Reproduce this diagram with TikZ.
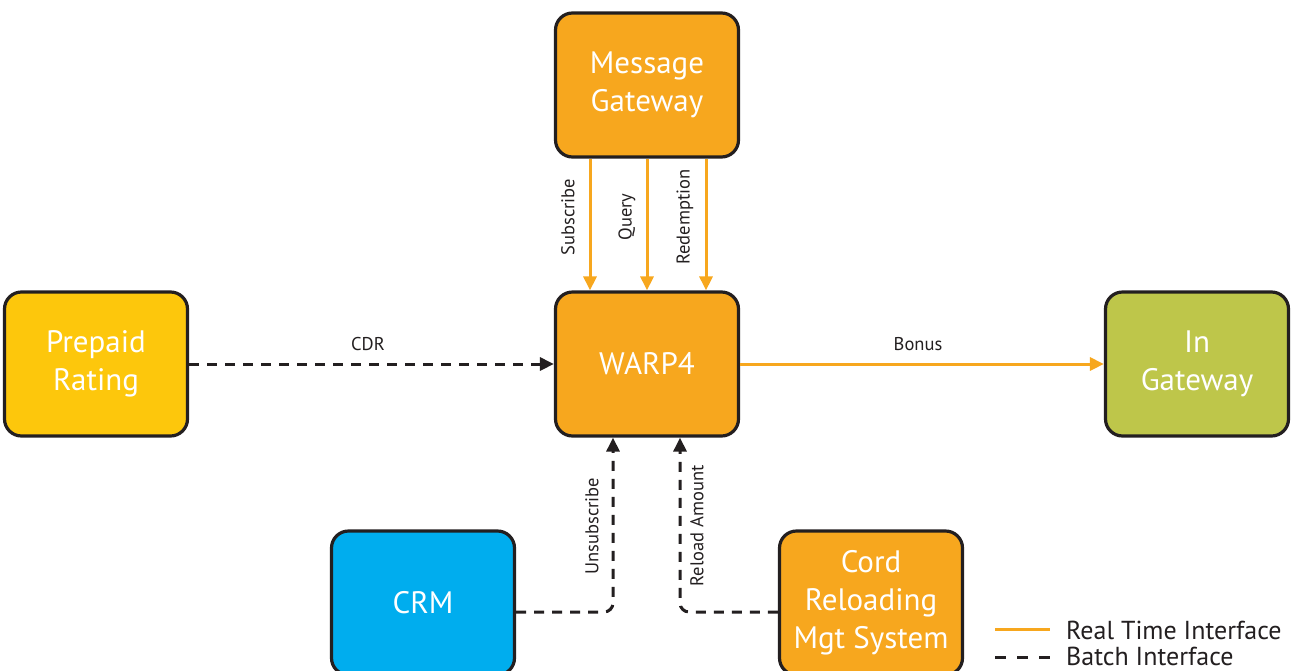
\documentclass[tikz,border=0pt]{standalone}
\usepackage{fontspec}
\setmainfont{PT Sans}
\usetikzlibrary{arrows.meta}
\definecolor{boxline}{HTML}{231F20}
\definecolor{orangefill}{HTML}{F7A71E}
\definecolor{yellowfill}{HTML}{FDC70C}
\definecolor{greenfill}{HTML}{BEC64A}
\definecolor{bluefill}{HTML}{00ADEE}
\definecolor{rtline}{HTML}{F7A71E}
\definecolor{batchline}{HTML}{231F20}
\tikzset{
  sysbox/.style={draw=boxline, line width=3.2pt, rounded corners=17pt,
    minimum width=183pt, minimum height=144pt, text=white,
    font=\fontsize{31}{38}\selectfont, align=center, inner sep=0pt},
  realtime/.style={draw=rtline, line width=3pt,
    -{Triangle[length=14pt,width=13pt]}},
  batch/.style={draw=batchline, line width=3pt, dash pattern=on 10pt off 8pt,
    -{Triangle[length=14pt,width=13pt]}},
  lbl/.style={font=\fontsize{18.5}{20}\selectfont, text=boxline, inner sep=0pt},
  legendtext/.style={font=\fontsize{26}{28}\selectfont, text=boxline, anchor=west, inner sep=0pt}
}
\begin{document}
\begin{tikzpicture}[x=1pt, y=-1pt]
\useasboundingbox (0,0) rectangle (1303,670);

% systems
\node[sysbox, fill=orangefill] (msg) at (647,85) {Message\\Gateway};
\node[sysbox, fill=orangefill] (warp) at (647,364) {WARP4};
\node[sysbox, fill=yellowfill] (prepaid) at (96,364) {Prepaid\\Rating};
\node[sysbox, fill=greenfill] (ingw) at (1197,364) {In\\Gateway};
\node[sysbox, fill=bluefill] (crm) at (423,603) {CRM};
\node[sysbox, fill=orangefill] (cord) at (871,603) {Cord\\Reloading\\Mgt System};

% real-time requests from the message gateway
\draw[realtime] (msg.south -| 590,0) -- (warp.north -| 590,0);
\draw[realtime] (msg.south -| 647,0) -- (warp.north -| 647,0);
\draw[realtime] (msg.south -| 706,0) -- (warp.north -| 706,0);
\node[lbl, rotate=90] (lsub) at (568,217) {Subscribe};
\node[lbl, rotate=90] (lqry) at (627,217) {Query};
\node[lbl, rotate=90] (lred) at (685,217) {Redemption};

% horizontal interfaces
\draw[batch] (prepaid.east) -- (warp.west);
\node[lbl] (lcdr) at (368,344) {CDR};
\draw[realtime] (warp.east) -- (ingw.west);
\node[lbl] (lbon) at (918,344) {Bonus};

% batch feeds into WARP4 from below
\draw[batch, rounded corners=9pt] (crm.east |- 0,612) -- (613,612) -- (warp.south -| 613,0);
\node[lbl, rotate=90] (lunsub) at (592,526) {Unsubscribe};
\draw[batch, rounded corners=9pt] (cord.west |- 0,612) -- (680,612) -- (warp.south -| 680,0);
\node[lbl, rotate=90] (lrel) at (697,526) {Reload Amount};

% legend
\coordinate (k1a) at (995,629);
\coordinate (k1b) at (1050,629);
\coordinate (k2a) at (995,657);
\coordinate (k2b) at (1050,657);
\draw[rtline, line width=3pt] (k1a) -- (k1b);
\draw[batchline, line width=3pt, dash pattern=on 11pt off 11pt] (k2a) -- (k2b);
\node[legendtext] (t1) at (1066,630) {Real Time Interface};
\node[legendtext] (t2) at (1066,656) {Batch Interface};
\end{tikzpicture}
\end{document}
